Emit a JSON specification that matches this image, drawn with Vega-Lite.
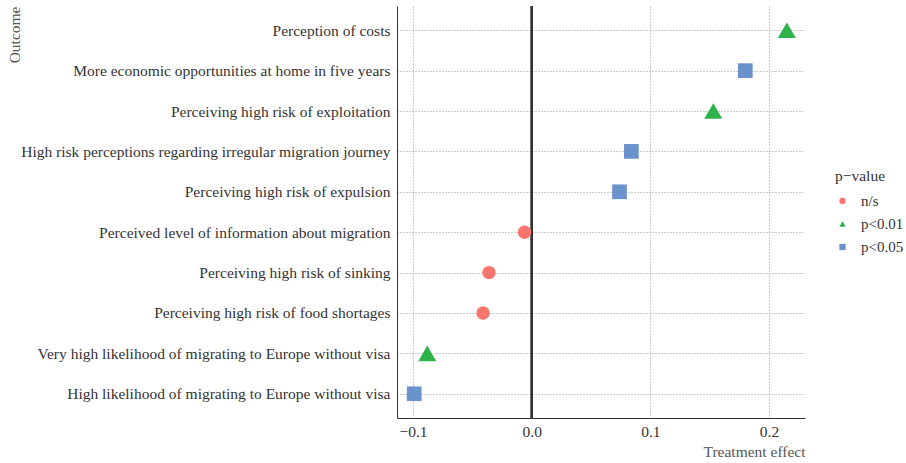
{
  "$schema": "https://vega.github.io/schema/vega-lite/v6.json",
  "width": 408,
  "height": 412,
  "autosize": {"type": "none"},
  "padding": {"left": 397, "top": 6, "right": 101, "bottom": 45},
  "background": "white",
  "config": {
    "font": "Liberation Serif",
    "view": {"stroke": null},
    "axis": {
      "labelFont": "Liberation Serif",
      "titleFont": "Liberation Serif",
      "labelFontSize": 15.5,
      "titleFontSize": 15.5,
      "labelColor": "#333333",
      "titleColor": "#555555",
      "titleFontWeight": "normal",
      "domainColor": "#333333",
      "domainWidth": 1,
      "ticks": false,
      "grid": true,
      "gridColor": "#999999",
      "gridDash": [1, 2],
      "gridWidth": 1
    },
    "legend": {
      "labelFont": "Liberation Serif",
      "titleFont": "Liberation Serif",
      "labelFontSize": 15,
      "titleFontSize": 15.5,
      "titleFontWeight": "normal",
      "labelColor": "#333333",
      "titleColor": "#333333",
      "symbolSize": 40,
      "rowPadding": 7,
      "titlePadding": 9,
      "labelOffset": 11,
      "labelLimit": 200
    }
  },
  "data": {
    "values": [
      {"outcome": "Perception of costs", "effect": 0.215, "p": "p<0.01"},
      {"outcome": "More economic opportunities at home in five years", "effect": 0.180, "p": "p<0.05"},
      {"outcome": "Perceiving high risk of exploitation", "effect": 0.153, "p": "p<0.01"},
      {"outcome": "High risk perceptions regarding irregular migration journey", "effect": 0.084, "p": "p<0.05"},
      {"outcome": "Perceiving high risk of expulsion", "effect": 0.074, "p": "p<0.05"},
      {"outcome": "Perceived level of information about migration", "effect": -0.006, "p": "n/s"},
      {"outcome": "Perceiving high risk of sinking", "effect": -0.036, "p": "n/s"},
      {"outcome": "Perceiving high risk of food shortages", "effect": -0.041, "p": "n/s"},
      {"outcome": "Very high likelihood of migrating to Europe without visa", "effect": -0.088, "p": "p<0.01"},
      {"outcome": "High likelihood of migrating to Europe without visa", "effect": -0.099, "p": "p<0.05"}
    ]
  },
  "encoding": {
    "x": {
      "field": "effect",
      "type": "quantitative",
      "scale": {"domain": [-0.1135, 0.2303], "nice": false, "zero": false},
      "axis": {
        "values": [-0.1, 0, 0.1, 0.2],
        "format": ".1f",
        "labelExpr": "replace(datum.label, '-', '\u2212')",
        "title": "Treatment effect",
        "titleAnchor": "end",
        "labelPadding": 6,
        "titlePadding": 5,
        "labelFlush": false
      }
    },
    "y": {
      "field": "outcome",
      "type": "nominal",
      "sort": null,
      "scale": {
        "type": "point",
        "padding": 0.6,
        "domain": [
          "Perception of costs",
          "More economic opportunities at home in five years",
          "Perceiving high risk of exploitation",
          "High risk perceptions regarding irregular migration journey",
          "Perceiving high risk of expulsion",
          "Perceived level of information about migration",
          "Perceiving high risk of sinking",
          "Perceiving high risk of food shortages",
          "Very high likelihood of migrating to Europe without visa",
          "High likelihood of migrating to Europe without visa"
        ]
      },
      "axis": {
        "title": "Outcome",
        "labelPadding": 7,
        "labelLimit": 500,
        "titleAnchor": "end",
        "titleAngle": -90,
        "titleX": -383,
        "titleY": 0,
        "titleAlign": "right",
        "titleBaseline": "middle"
      }
    },
    "color": {
      "field": "p",
      "type": "nominal",
      "scale": {"domain": ["n/s", "p<0.01", "p<0.05"], "range": ["#F8766D", "#2DB34A", "#6A93CD"]},
      "legend": {"title": "p\u2212value", "orient": "none", "legendX": 438, "legendY": 163}
    },
    "shape": {
      "field": "p",
      "type": "nominal",
      "scale": {"domain": ["n/s", "p<0.01", "p<0.05"], "range": ["circle", "triangle-up", "square"]},
      "legend": {"title": "p\u2212value", "orient": "none", "legendX": 438, "legendY": 163}
    }
  },
  "layer": [
    {
      "mark": {"type": "rule", "color": "#333333", "strokeWidth": 1.6},
      "encoding": {"x": {"datum": 0}, "y": {"value": 0}, "y2": {"value": 412}, "color": {"value": "#333333"}, "shape": null}
    },
    {
      "transform": [{"filter": "datum.p == 'n/s'"}],
      "mark": {"type": "point", "filled": true, "opacity": 1, "size": 180}
    },
    {
      "transform": [{"filter": "datum.p == 'p<0.01'"}],
      "mark": {"type": "point", "filled": true, "opacity": 1, "size": 324}
    },
    {
      "transform": [{"filter": "datum.p == 'p<0.05'"}],
      "mark": {"type": "point", "filled": true, "opacity": 1, "size": 216}
    }
  ]
}
